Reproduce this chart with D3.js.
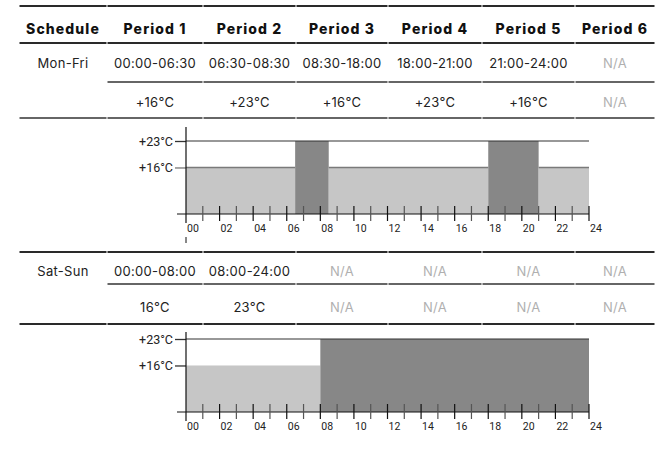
<!DOCTYPE html>
<html>
<head>
    <meta charset="utf-8">
    <script src="https://cdn.jsdelivr.net/npm/d3@7"></script>
    <style>
        body { margin: 0px; background: white; }
        .cell { font-family: Inter, "Open Sans", sans-serif; fill: #222; letter-spacing: 0.3px; }
        .na { fill: #b0b0b0; }
        .ax { font-family: Roboto, sans-serif; fill: #222; }
    </style>
</head>
<body>
<svg id="canvas" width="655" height="454"></svg>
<script>
// table contents
var headers = ["Schedule", "Period 1", "Period 2", "Period 3", "Period 4", "Period 5", "Period 6"];
var monFriTimes = ["00:00-06:30", "06:30-08:30", "08:30-18:00", "18:00-21:00", "21:00-24:00", "N/A"];
var monFriTemps = ["+16°C", "+23°C", "+16°C", "+23°C", "+16°C", "N/A"];
var satSunTimes = ["00:00-08:00", "08:00-24:00", "N/A", "N/A", "N/A", "N/A"];
var satSunTemps = ["16°C", "23°C", "N/A", "N/A", "N/A", "N/A"];

// blocks for the little timelines: start hour, end hour, temperature
var monFriStart = [0, 6.5, 8.5, 18, 21];
var monFriEnd = [6.5, 8.5, 18, 21, 24];
var monFriTemp = [16, 23, 16, 23, 16];
var satSunStart = [0, 8];
var satSunEnd = [8, 24];
var satSunTemp = [16, 23];

var tempTicks = [16, 23];
var tempLabels = ["+16°C", "+23°C"];
var hourLabels = ["00", "02", "04", "06", "08", "10", "12", "14", "16", "18", "20", "22", "24"];

var svg = d3.select("#canvas");

// column edges of the table
var colEdges = [19, 107, 203, 296, 388, 482, 575, 655];
function colMid(i) { return (colEdges[i] + colEdges[i + 1]) / 2; }

// horizontal rule drawn cell by cell so the joints show a little
function rule(y, fromCol, color, width) {
    for (var i = fromCol; i < colEdges.length - 1; i++) {
        svg.append("line")
            .attr("x1", colEdges[i] + 0.5).attr("x2", colEdges[i + 1] - 0.5)
            .attr("y1", y).attr("y2", y)
            .style("stroke", color).style("stroke-width", width);
    }
}

function textRow(values, y, first) {
    var all = [first].concat(values);
    svg.append("g").selectAll("text")
        .data(all)
        .enter()
        .append("text")
        .attr("class", d => d == "N/A" ? "cell na" : "cell")
        .attr("x", (d, i) => colMid(i))
        .attr("y", y)
        .attr("text-anchor", "middle")
        .attr("dominant-baseline", "central")
        .style("font-size", "13px")
        .text(d => d);
}

// header
rule(6, 0, "#2a2a2a", 2);
svg.append("g").selectAll("text")
    .data(headers)
    .enter()
    .append("text")
    .attr("class", "cell")
    .attr("x", (d, i) => colMid(i))
    .attr("y", 28)
    .attr("text-anchor", "middle")
    .attr("dominant-baseline", "central")
    .style("font-size", "14px")
    .style("font-weight", "800")
    .style("letter-spacing", "1.1px")
    .style("fill", "#111")
    .text(d => d);
rule(43, 0, "#2a2a2a", 2);

// Mon-Fri rows
textRow(monFriTimes, 63, "Mon-Fri");
rule(82, 1, "#333", 1.5);
textRow(monFriTemps, 102, "");
rule(118, 0, "#333", 1.5);

// Sat-Sun rows
rule(252, 0, "#2a2a2a", 2);
textRow(satSunTimes, 271, "Sat-Sun");
rule(284, 1, "#333", 1.5);
textRow(satSunTemps, 307, "");
rule(324, 0, "#2a2a2a", 2);

// timeline chart
function drawTimeline(starts, ends, temps, top, t23, base, edgeLine) {
    var x = d3.scaleLinear().domain([0, 24]).range([186, 589]);
    var y = d3.scaleLinear().domain([3.7, 23]).range([base, t23]);
    var g = svg.append("g");
    var blocks = starts.map((s, i) => ({ s: s, e: ends[i], t: temps[i] }));

    g.selectAll("rect")
        .data(blocks)
        .enter()
        .append("rect")
        .attr("x", d => x(d.s))
        .attr("width", d => x(d.e) - x(d.s))
        .attr("y", d => y(d.t))
        .attr("height", d => base - y(d.t))
        .style("fill", d => d.t > 20 ? "#878787" : "#c6c6c6");

    // top edge of the cool blocks
    if (edgeLine) {
        g.selectAll("line.edge")
            .data(blocks.filter(d => d.t < 20))
            .enter()
            .append("line")
            .attr("x1", d => x(d.s)).attr("x2", d => x(d.e))
            .attr("y1", d => y(d.t)).attr("y2", d => y(d.t))
            .style("stroke", "#7a7a7a").style("stroke-width", 1.5);
    }

    // +23 line across
    g.append("line")
        .attr("x1", x(0)).attr("x2", x(24))
        .attr("y1", y(23)).attr("y2", y(23))
        .style("stroke", "#333").style("stroke-width", 1.2);

    // y axis
    var yAxis = d3.axisLeft(y).tickValues(tempTicks).tickSize(11)
        .tickFormat((d, i) => tempLabels[i]);
    var ya = g.append("g").attr("transform", "translate(" + x(0) + ",0)").call(yAxis);
    ya.attr("font-size", null).attr("font-family", null);
    ya.select(".domain").remove();
    ya.selectAll(".tick line").style("stroke", (d) => d == 16 && edgeLine ? "#777" : "#333").style("stroke-width", 1.3);
    ya.selectAll(".tick text").attr("x", -13)
        .style("font-size", "12.5px").style("font-family", "Roboto, sans-serif").style("fill", "#222");
    g.append("line")
        .attr("x1", x(0)).attr("x2", x(0))
        .attr("y1", top).attr("y2", base + 9)
        .style("stroke", "#111").style("stroke-width", 1.2);

    // x axis with hourly ticks
    g.append("line")
        .attr("x1", x(0) - 9).attr("x2", x(24))
        .attr("y1", base).attr("y2", base)
        .style("stroke", "#111").style("stroke-width", 1.2);
    var hours = d3.range(1, 25);
    g.selectAll("line.hr")
        .data(hours)
        .enter()
        .append("line")
        .attr("x1", d => x(d)).attr("x2", d => x(d))
        .attr("y1", base - 8).attr("y2", base + 7)
        .style("stroke", d => d % 2 ? "#555" : "#111")
        .style("stroke-width", 1.2);
    g.selectAll("text.hr")
        .data(hourLabels)
        .enter()
        .append("text")
        .attr("class", "ax")
        .attr("x", (d, i) => x(i * 2) + 1)
        .attr("y", base + 18)
        .style("font-size", "10.5px")
        .text(d => d);
}

drawTimeline(monFriStart, monFriEnd, monFriTemp, 127, 141, 214, true);
// the little stray mark below the first chart
svg.append("line").attr("x1", 186).attr("x2", 186).attr("y1", 237).attr("y2", 243)
    .style("stroke", "#111").style("stroke-width", 1);
drawTimeline(satSunStart, satSunEnd, satSunTemp, 332, 339, 412, false);
</script>
</body>
</html>
